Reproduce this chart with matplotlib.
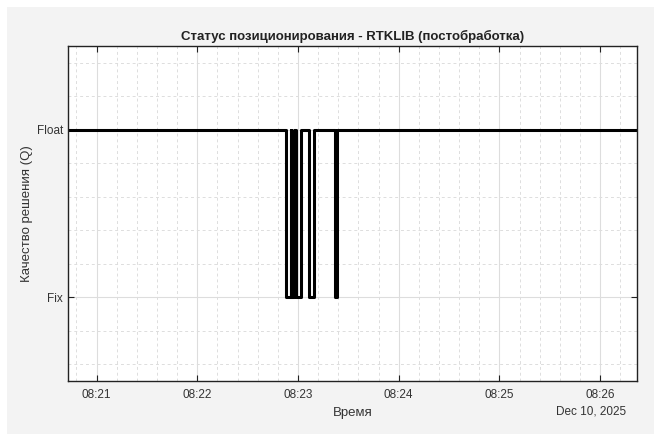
import matplotlib
matplotlib.use("Agg")
import matplotlib.pyplot as plt
import matplotlib.dates as mdates
from matplotlib.patches import Rectangle
from matplotlib.ticker import MultipleLocator
import pandas as pd

plt.rcParams["font.family"] = ["Liberation Sans", "DejaVu Sans"]

# moments when the solution status changes (Q: 1 = Fix, 2 = Float)
change_times = [
    "2025-12-10 08:20:43.0",
    "2025-12-10 08:22:52.7",
    "2025-12-10 08:22:55.6",
    "2025-12-10 08:22:56.0",
    "2025-12-10 08:22:57.7",
    "2025-12-10 08:22:58.9",
    "2025-12-10 08:23:01.6",
    "2025-12-10 08:23:06.5",
    "2025-12-10 08:23:09.5",
    "2025-12-10 08:23:22.3",
    "2025-12-10 08:23:23.0",
    "2025-12-10 08:26:22.0",
]
q_values = [2, 1, 2, 1, 2, 1, 2, 1, 2, 1, 2, 2]
q_ticks = [1, 2]
q_labels = ["Fix", "Float"]

times = pd.to_datetime(change_times)

fig = plt.figure(figsize=(6.54, 4.34), dpi=100, facecolor="white")
# gray panel behind the plot (small white margin top/left)
fig.patches.append(Rectangle((7 / 654, 0), 1, 1 - 7 / 434, transform=fig.transFigure,
                             facecolor="#f3f3f3", edgecolor="none", zorder=-10))
ax = fig.add_axes([68 / 654, 1 - 381 / 434, (637 - 68) / 654, (381 - 46) / 434])
ax.set_facecolor("white")

ax.step(times, q_values, where="post", color="black", lw=2.2)

ax.set_xlim(times[0], times[-1])
ax.set_ylim(0.5, 2.5)
ax.set_yticks(q_ticks)
ax.set_yticklabels(q_labels)
ax.yaxis.set_minor_locator(MultipleLocator(0.2))

loc = mdates.MinuteLocator()
fmt = mdates.ConciseDateFormatter(loc)
fmt.offset_formats = ["", "%Y", "%b %Y", "%b %d, %Y", "%b %d, %Y", "%b %d, %Y %H:%M"]
ax.xaxis.set_major_locator(loc)
ax.xaxis.set_major_formatter(fmt)
ax.xaxis.set_minor_locator(mdates.SecondLocator(bysecond=[0, 12, 24, 36, 48]))

ax.grid(which="major", color="#dddddd", lw=0.8, ls="-")
ax.grid(which="minor", color="#dddddd", lw=0.7, ls=(0, (3, 3)))
ax.set_axisbelow(True)

ax.tick_params(which="major", direction="in", top=True, right=True, length=4,
               labelsize=8.5, color="#222222", labelcolor="#333333")
ax.tick_params(axis="x", which="major", pad=6)
ax.tick_params(which="minor", length=0)
off = ax.xaxis.get_offset_text()
off.set_fontsize(8.5)
off.set_color("#333333")
off.set_x(0.981)
for s in ax.spines.values():
    s.set_color("#222222")
    s.set_linewidth(1)

ax.set_title("Статус позиционирования - RTKLIB (постобработка)", fontsize=9.5,
             fontweight="bold", color="#222222", pad=4)
ax.set_xlabel("Время", fontsize=9.5, color="#333333", labelpad=4)
ax.set_ylabel("Качество решения (Q)", fontsize=9.5, color="#333333", labelpad=3)

fig.savefig("out.png", dpi=100, facecolor=fig.get_facecolor())
